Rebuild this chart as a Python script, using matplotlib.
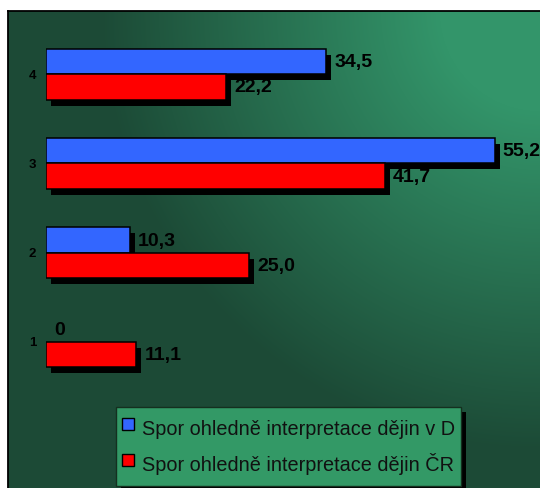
import numpy as np
import matplotlib
matplotlib.use("Agg")
import matplotlib.pyplot as plt
from matplotlib.lines import Line2D
from matplotlib.patches import Rectangle
from matplotlib.transforms import ScaledTranslation

# Survey results per group (1-4)
categories = ["1", "2", "3", "4"]
series_d = [0.0, 10.3, 55.2, 34.5]
series_cr = [11.1, 25.0, 41.7, 22.2]
label_d = "Spor ohledně interpretace dějin v D"
label_cr = "Spor ohledně interpretace dějin ČR"

BLUE = "#3366ff"
RED = "#ff0000"
FONT = "Liberation Sans"

W, H = 540, 488
fig = plt.figure(figsize=(W / 100, H / 100), dpi=100)
fig.patch.set_facecolor("white")

# --- green gradient panel, lightest in the upper right corner ---
PL, PT = 8, 11
gw, gh = W - PL, H - PT
bg = fig.add_axes([PL / W, 0, gw / W, gh / H])
xx, yy = np.meshgrid(np.arange(gw) + 0.5, np.arange(gh) + 0.5)
dist = np.hypot(gw - xx, yy)
t = np.clip((dist - 100) / 340, 0, 1)[..., None]
light = np.array([51, 149, 106]) / 255
dark = np.array([28, 74, 54]) / 255
bg.imshow(light * (1 - t) + dark * t, extent=(0, gw, gh, 0),
          aspect="auto", interpolation="bilinear")
bg.set_xlim(0, gw)
bg.set_ylim(gh, 0)
bg.set_xticks([])
bg.set_yticks([])
for s in ("right", "bottom"):
    bg.spines[s].set_visible(False)
for s in ("left", "top"):
    bg.spines[s].set_linewidth(1.3)
    bg.spines[s].set_color("black")

# --- bar axes ---
X0 = 46
px_per_unit_x = 8.13
y1_row = 342
px_per_cat = 89.3
ax = fig.add_axes([X0 / W, 0, (W - X0) / W, gh / H])
ax.patch.set_visible(False)
ax.set_xlim(0, (W - X0) / px_per_unit_x)
ax.set_ylim(1 - (H - y1_row) / px_per_cat, 1 + (y1_row - PT) / px_per_cat)
for s in ax.spines.values():
    s.set_visible(False)
ax.set_xticks([])

pos = np.arange(1, len(categories) + 1)
h = 0.285
shadow = ax.transData + ScaledTranslation(5 / 100, -6 / 100, fig.dpi_scale_trans)

for vals, off in ((series_d, h / 2), (series_cr, -h / 2)):
    ax.barh(pos + off, vals, h, color="black", linewidth=0,
            transform=shadow, zorder=1)
for vals, off, col in ((series_d, h / 2, BLUE), (series_cr, -h / 2, RED)):
    lw = [0 if v == 0 else 1.1 for v in vals]
    ax.barh(pos + off, vals, h, color=col, edgecolor="black",
            linewidth=lw, zorder=2)
    for yv, v in zip(pos + off, vals):
        txt = "0" if v == 0 else f"{v:.1f}".replace(".", ",")
        ax.annotate(txt, xy=(v, yv), xytext=(5.8, -0.8), textcoords="offset points",
                    ha="left", va="center", fontsize=14, fontweight="bold",
                    family=FONT, color="black", zorder=3)

ax.set_yticks(pos, categories)
ax.tick_params(axis="y", length=0, pad=7)
for lab in ax.get_yticklabels():
    lab.set_fontsize(9.5)
    lab.set_fontweight("bold")
    lab.set_family(FONT)

# --- legend with solid drop shadow ---
handles = [Line2D([], [], ls="none", marker="s", markersize=8.5,
                  markerfacecolor=BLUE, markeredgecolor="black", markeredgewidth=1.0),
           Line2D([], [], ls="none", marker="s", markersize=8.5,
                  markerfacecolor=RED, markeredgecolor="black", markeredgewidth=1.0)]
leg = ax.legend(handles, [label_d, label_cr], loc="upper left",
                bbox_to_anchor=(115.7 / W, 1 - 407 / H),
                bbox_transform=fig.transFigure,
                prop=dict(family=FONT, size=14.3),
                frameon=True, fancybox=False, facecolor="#339966",
                edgecolor="#14301f", framealpha=1,
                handlelength=0.65, handleheight=2.0, handletextpad=0.35,
                borderpad=0.3, borderaxespad=0, labelspacing=0.3)
leg.get_frame().set_linewidth(1.0)
leg.set_zorder(5)
for txt in leg.get_texts():
    txt.set_color("#111111")

fig.canvas.draw()
bb = leg.get_window_extent()
ax.add_artist(Rectangle((bb.x0 + 5, bb.y0 - 5), bb.width, bb.height,
                        transform=None, facecolor="black",
                        edgecolor="none", zorder=4))

fig.savefig("out.png", dpi=100)
